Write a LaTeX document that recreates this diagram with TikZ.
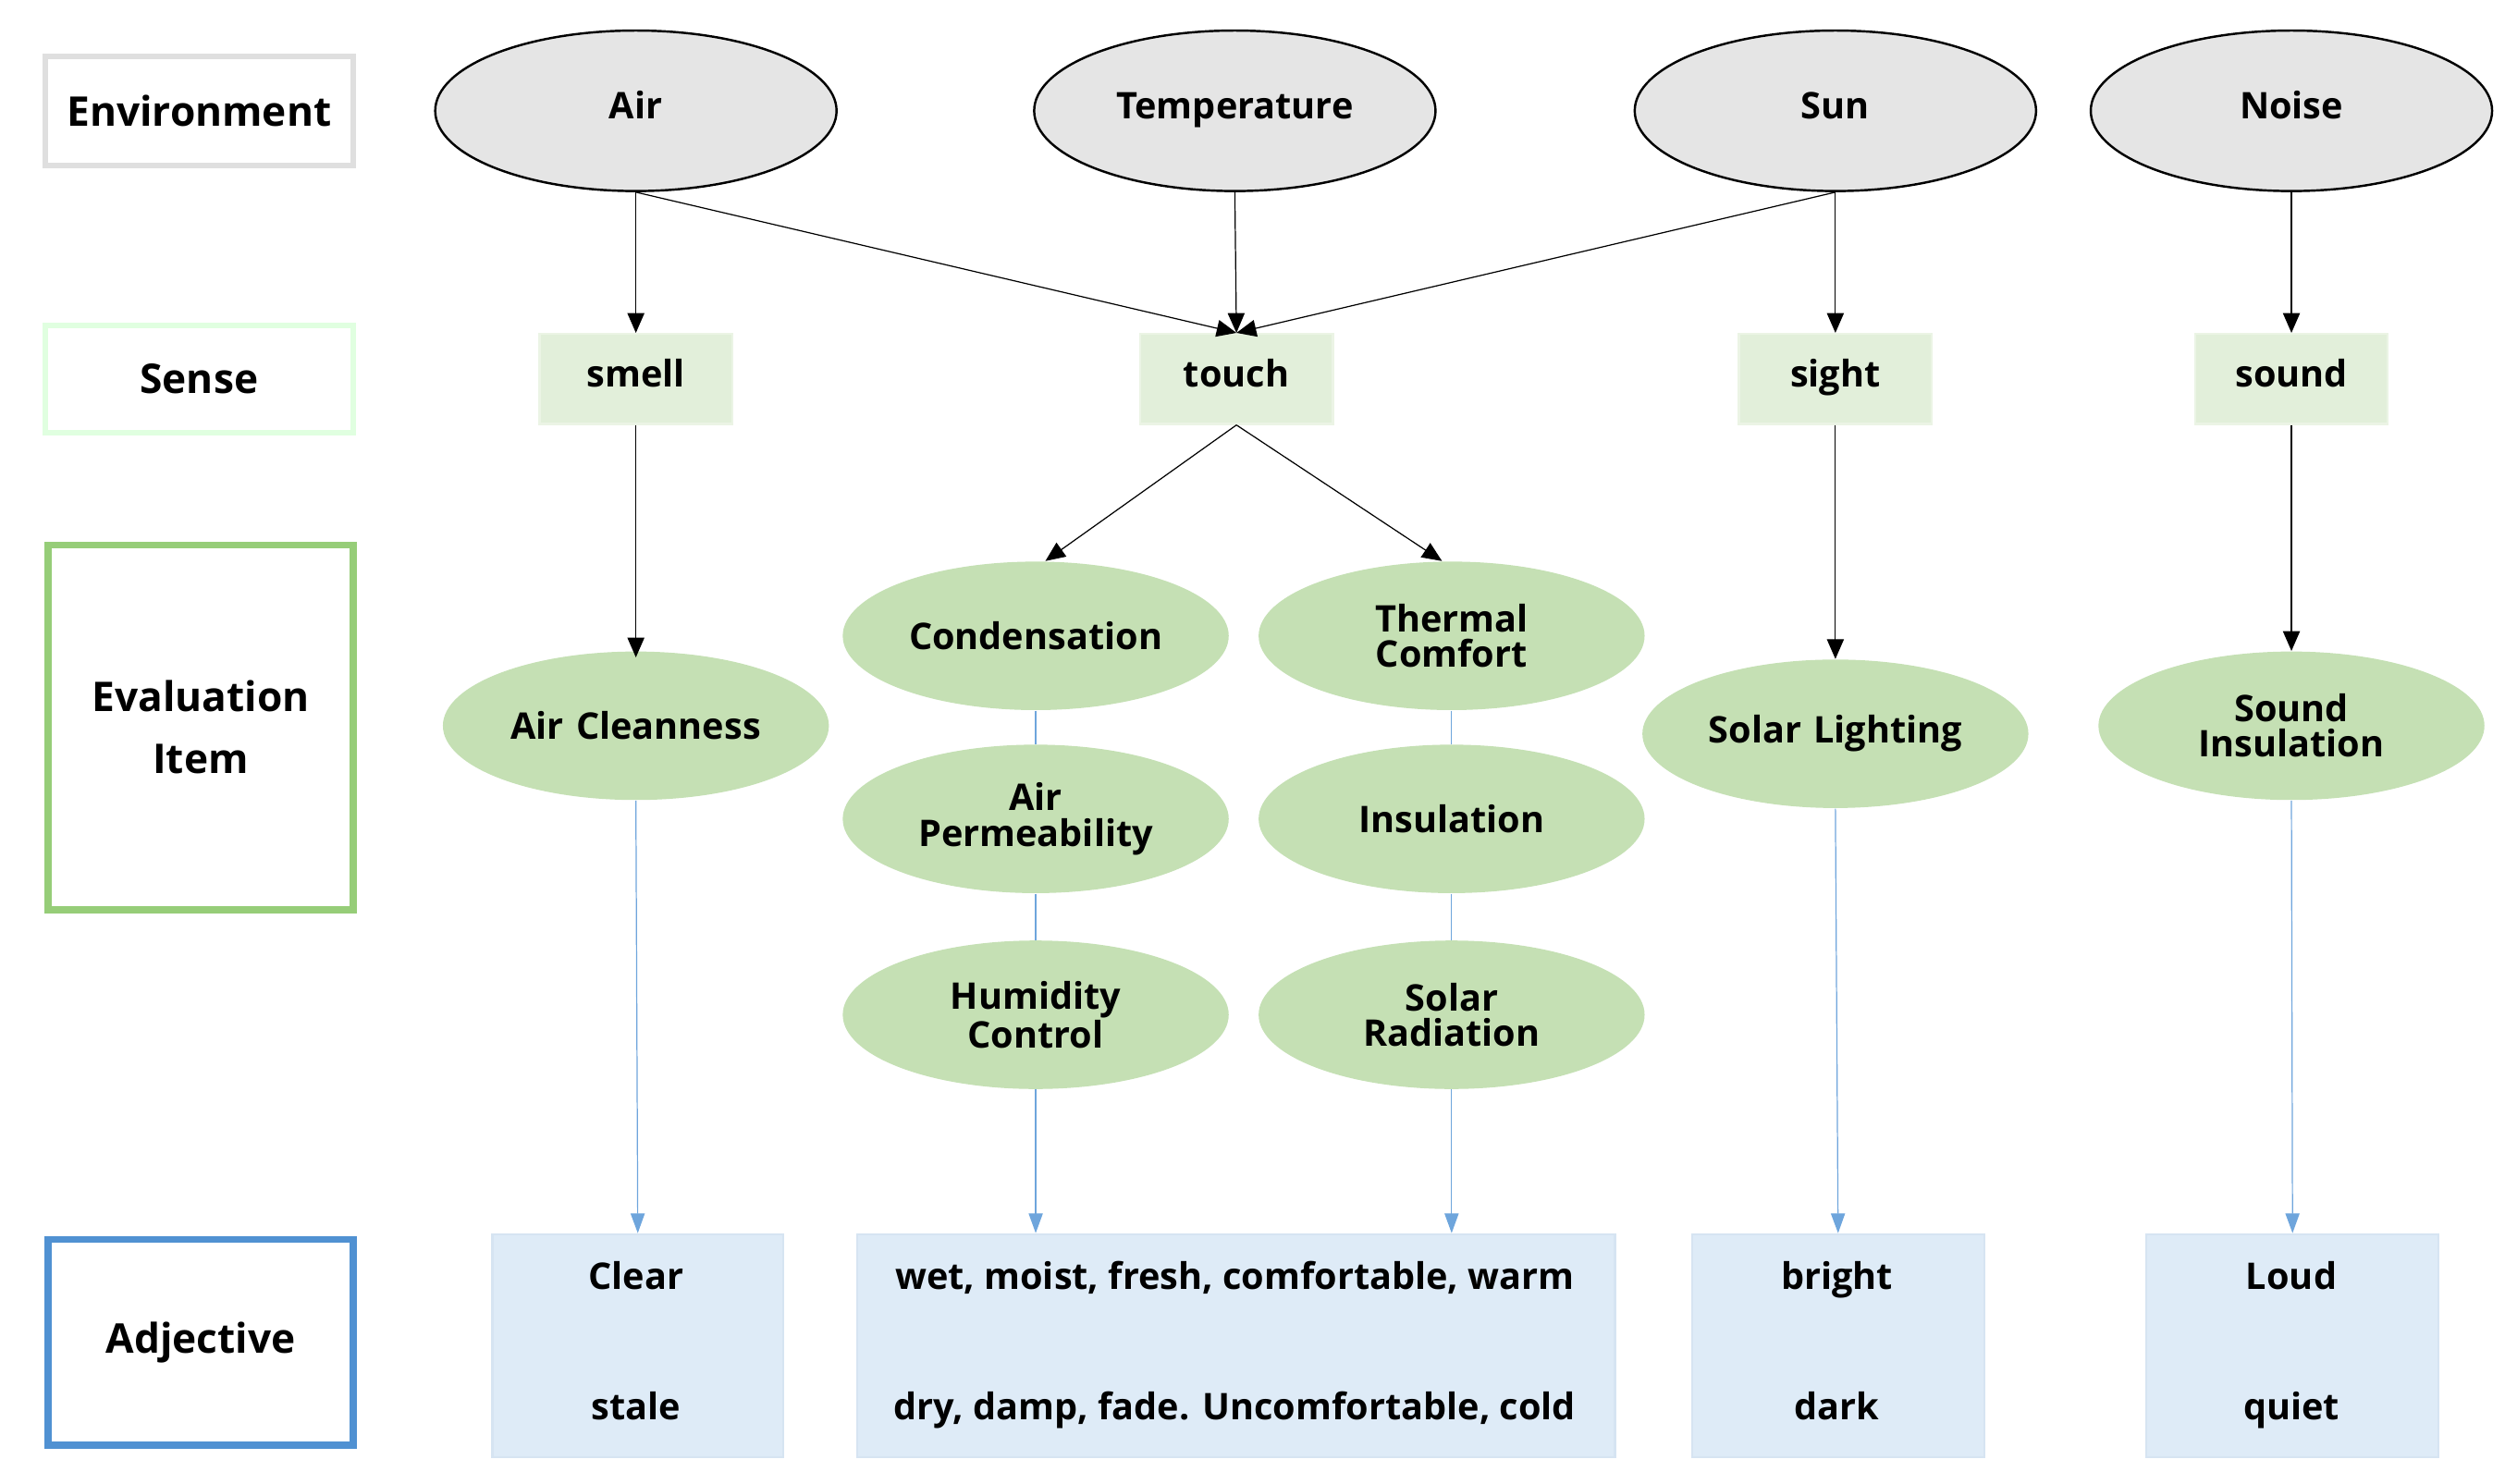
\documentclass[tikz,border=0pt]{standalone}
\usepackage{fontspec}
\setmainfont{Open Sans}
\usetikzlibrary{shapes.geometric,arrows.meta}
\definecolor{lblue}{RGB}{110,165,220}
\definecolor{igreen}{RGB}{197,224,180}
\definecolor{sgreen}{RGB}{226,239,218}
\definecolor{ablue}{RGB}{222,235,247}
\definecolor{ablueb}{RGB}{214,228,242}
\definecolor{egreen}{RGB}{150,205,120}
\definecolor{eblue}{RGB}{80,145,210}
\begin{document}
\begin{tikzpicture}[x=0.02cm,y=-0.02cm,
  every node/.style={font=\fontsize{13}{14}\selectfont\bfseries,align=center,inner sep=0pt},
  env/.style={ellipse,draw=black,thick,fill=gray!20,minimum width=5.0cm,minimum height=2cm},
  sense/.style={fill=sgreen,draw=sgreen!70,thick,minimum width=2.4cm,minimum height=1.12cm},
  item/.style={ellipse,fill=igreen,minimum width=4.4cm,minimum height=1.85cm,text width=3.4cm,font=\fontsize{13}{12.5}\selectfont\bfseries},
  adj/.style={fill=ablue,draw=ablueb,thick,anchor=north west},
  lab/.style={font=\fontsize{14.5}{16}\selectfont\bfseries},
  ar/.style={-{Triangle[length=7pt,width=6pt]},thin},
  bl/.style={draw=lblue,thin},
  bla/.style={bl,-{Triangle[length=7pt,width=5pt]}}]
\useasboundingbox (0,0) rectangle (1560,924);
% left labels
\node[lab,draw=gray!25,line width=2pt,minimum width=3.84cm,minimum height=1.36cm] (lenv) at (124,69) {Environment};
\node[lab,draw=green!12,line width=2pt,minimum width=3.84cm,minimum height=1.34cm] (lsen) at (124,236) {Sense};
\node[lab,draw=egreen,line width=2.5pt,minimum width=3.8cm,minimum height=4.54cm] (lev) at (125,453) {Evaluation\\[6pt]Item};
\node[lab,draw=eblue,line width=2.5pt,minimum width=3.8cm,minimum height=2.56cm] (ladj) at (125,836) {Adjective};
% env
\node[env] (air) at (396,69) {Air\strut};
\node[env] (tmp) at (769,69) {Temperature\strut};
\node[env] (sun) at (1143,69) {Sun\strut};
\node[env] (noi) at (1427,69) {Noise\strut};
% sense
\node[sense] (smell) at (396,236) {smell\strut};
\node[sense] (touch) at (770,236) {touch\strut};
\node[sense] (sight) at (1143,236) {sight\strut};
\node[sense] (sound) at (1427,236) {sound\strut};
% items
\node[item] (ac) at (396,452) {Air Cleanness};
\node[item] (co) at (645,396) {Condensation};
\node[item] (tc) at (904,396) {Thermal\\Comfort};
\node[item] (ap) at (645,510) {Air\\Permeability};
\node[item] (ins) at (904,510) {Insulation};
\node[item] (hc) at (645,632) {Humidity\\Control};
\node[item] (sr) at (904,632) {Solar\\Radiation};
\node[item] (sl) at (1143,457) {Solar Lighting};
\node[item] (si) at (1427,452) {Sound\\Insulation};
% adjectives
\node[adj,minimum width=3.62cm,minimum height=2.78cm] (a1) at (306,768) {};
\node[adj,minimum width=9.44cm,minimum height=2.78cm] (a2) at (533,768) {};
\node[adj,minimum width=3.64cm,minimum height=2.78cm] (a3) at (1053,768) {};
\node[adj,minimum width=3.64cm,minimum height=2.78cm] (a4) at (1336,768) {};
\node (t1a) at (396,798) {Clear\strut};
\node (t1b) at (396,879) {stale\strut};
\node (t2a) at (769,798) {wet, moist, fresh, comfortable, warm\strut};
\node (t2b) at (769,879) {dry, damp, fade. Uncomfortable, cold\strut};
\node (t3a) at (1144,798) {bright\strut};
\node (t3b) at (1144,879) {dark\strut};
\node (t4a) at (1427,798) {Loud\strut};
\node (t4b) at (1427,879) {quiet\strut};
% arrows
\draw[ar] (air.south) -- (smell.north);
\draw[ar] (air.south) -- (touch.north);
\draw[ar] (tmp.south) -- (touch.north);
\draw[ar] (sun.south) -- (touch.north);
\draw[ar] (sun.south) -- (sight.north);
\draw[ar] (noi.south) -- (sound.north);
\draw[ar] (smell.south) -- ([yshift=-0.08cm]ac.north);
\draw[ar] (touch.south) -- ([xshift=0.12cm]co.north);
\draw[ar] (touch.south) -- ([xshift=-0.12cm]tc.north);
\draw[ar] (sight.south) -- (sl.north);
\draw[ar] (sound.south) -- (si.north);
\draw[bl] (co.south) -- (ap.north);
\draw[bl] (ap.south) -- (hc.north);
\draw[bl] (tc.south) -- (ins.north);
\draw[bl] (ins.south) -- (sr.north);
\draw[bla] (ac.south) -- (a1.north);
\draw[bla] (hc.south) -- (hc.south |- a2.north);
\draw[bla] (sr.south) -- (sr.south |- a2.north);
\draw[bla] (sl.south) -- (a3.north);
\draw[bla] (si.south) -- (a4.north);
\end{tikzpicture}
\end{document}
